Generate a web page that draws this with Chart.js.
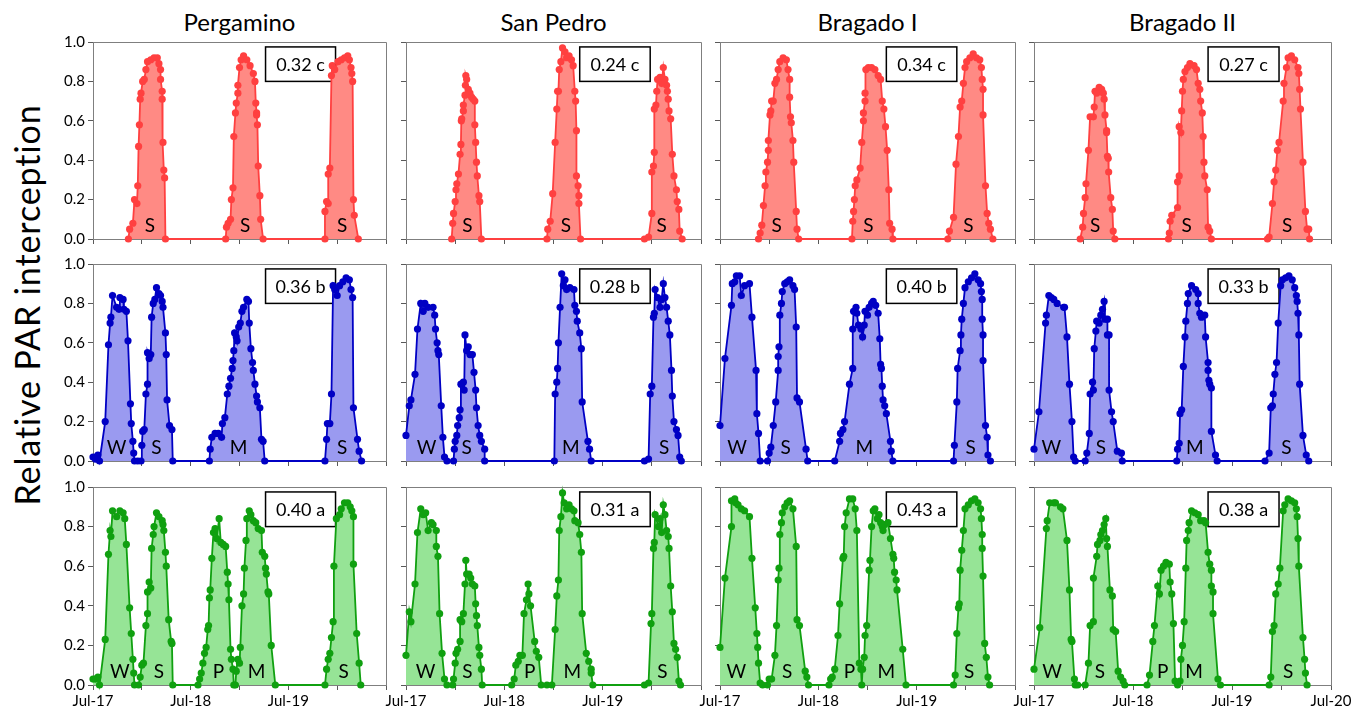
<!DOCTYPE html>
<html>
<head>
<meta charset="utf-8">
<script src="https://cdn.jsdelivr.net/npm/chart.js@4.4.1/dist/chart.umd.min.js"></script>
<style>
  body { margin: 0; background: #fff; font-family: Lato, sans-serif; }
  #page { position: relative; width: 1355px; height: 710px; overflow: hidden; }
  canvas { position: absolute; }
  .col-title { position: absolute; top: 8px; font-size: 24px; line-height: 28px; transform: translateX(-50%); white-space: nowrap; color: #000; }
  #ytitle { position: absolute; left: 27px; top: 305px; font-size: 34px; line-height: 36px; letter-spacing: 0.9px; white-space: nowrap;
            transform: translate(-50%, -50%) rotate(-90deg); color: #000; }
</style>
</head>
<body>
<div id="page">
  <div id="ytitle">Relative PAR interception</div>
</div>
<script>
// Sites (columns) and x axis tick labels (months since Jul-17, every 6 months)
const sites = ['Pergamino', 'San Pedro', 'Bragado I', 'Bragado II'];
const xTickLabels = ['Jul-17', '', 'Jul-18', '', 'Jul-19', '', 'Jul-20'];
const yTicks = [0, 0.2, 0.4, 0.6, 0.8, 1.0];

// Boxed values per row (red, blue, green) and site
const boxValues = [
  ['0.32 c', '0.24 c', '0.34 c', '0.27 c'],
  ['0.36 b', '0.28 b', '0.40 b', '0.33 b'],
  ['0.40 a', '0.31 a', '0.43 a', '0.38 a']
];

// ---- Red row: [month, relative PAR interception]
const pergRed = [[4.35,0],[4.5,0.05],[4.9,0.08],[5.1,0.2],[5.4,0.18],[5.5,0.27],[5.6,0.47],[5.7,0.58],[5.8,0.71],[5.9,0.74],[6.1,0.8],[6.3,0.81],[6.5,0.86],[6.7,0.9],[7.1,0.91],[7.5,0.92],[7.9,0.92],[8.1,0.89],[8.3,0.86],[8.3,0.81],[8.5,0.75],[8.5,0.71],[8.6,0.49],[8.7,0.35],[8.8,0.31],[8.9,0],
  [16.3,0],[16.4,0.06],[16.6,0.08],[16.9,0.1],[17.0,0.2],[17.2,0.26],[17.3,0.52],[17.5,0.64],[17.6,0.69],[17.8,0.74],[17.8,0.78],[18.0,0.87],[18.2,0.91],[18.5,0.93],[18.9,0.91],[19.3,0.88],[19.7,0.84],[19.9,0.8],[20.0,0.69],[20.1,0.64],[20.1,0.63],[20.2,0.58],[20.3,0.37],[20.5,0.22],[20.6,0.1],[20.9,0],
  [28.5,0],[28.5,0.14],[28.7,0.19],[28.9,0.18],[28.9,0.33],[29.1,0.36],[29.3,0.83],[29.4,0.88],[29.7,0.86],[30.1,0.9],[30.5,0.91],[30.9,0.92],[31.3,0.93],[31.5,0.91],[31.7,0.87],[31.8,0.84],[31.9,0.8],[32.0,0.2],[32.1,0.12],[32.6,0]];
const sanpRed = [[5.57,0],[5.7,0.08],[5.8,0.13],[6.0,0.19],[6.1,0.25],[6.2,0.28],[6.4,0.33],[6.6,0.43],[6.7,0.48],[6.75,0.6],[6.8,0.61],[7.0,0.65],[7.0,0.68],[7.2,0.73],[7.25,0.78],[7.3,0.83],[7.4,0.81],[7.6,0.76],[7.8,0.74],[8.0,0.72],[8.2,0.71],[8.4,0.7],[8.4,0.58],[8.5,0.49],[8.6,0.39],[8.7,0.32],[8.9,0.22],[9.0,0.19],[9.2,0],
  [17.2,0],[17.3,0.05],[17.6,0.09],[17.9,0.23],[18.2,0.49],[18.4,0.66],[18.5,0.75],[18.6,0.75],[18.7,0.86],[18.9,0.9],[19.1,0.97],[19.4,0.95],[19.6,0.92],[19.9,0.93],[20.2,0.91],[20.4,0.88],[20.6,0.75],[20.7,0.7],[20.8,0.55],[20.8,0.32],[21.0,0.27],[21.1,0.22],[21.1,0.18],[21.3,0],
  [29.1,0],[29.6,0.01],[30.0,0.13],[30.0,0.34],[30.2,0.37],[30.3,0.44],[30.3,0.66],[30.5,0.68],[30.6,0.75],[30.7,0.81],[31.0,0.82],[31.2,0.79],[31.4,0.87],[31.6,0.81],[31.8,0.78],[31.9,0.75],[32.0,0.71],[32.1,0.65],[32.3,0.61],[32.5,0.43],[32.7,0.32],[33.0,0.25],[33.1,0.19],[33.3,0.15],[33.4,0.04],[33.7,0]];
const brag1Red = [[4.7,0],[4.9,0.03],[5.1,0.07],[5.3,0.17],[5.5,0.27],[5.6,0.34],[5.8,0.39],[5.9,0.45],[5.9,0.5],[6.1,0.63],[6.2,0.65],[6.3,0.7],[6.5,0.7],[6.7,0.79],[6.9,0.81],[7.1,0.86],[7.3,0.9],[7.7,0.92],[8.1,0.91],[8.3,0.86],[8.5,0.81],[8.5,0.72],[8.6,0.62],[8.7,0.59],[8.9,0.5],[9.0,0.39],[9.3,0.14],[9.4,0.05],[9.6,0],
  [16.1,0],[16.2,0.09],[16.3,0.14],[16.4,0.2],[16.5,0.27],[16.7,0.3],[17.1,0.36],[17.3,0.49],[17.5,0.6],[17.5,0.64],[17.7,0.7],[17.7,0.74],[17.8,0.86],[18.1,0.87],[18.5,0.87],[18.9,0.86],[19.3,0.83],[19.6,0.81],[19.8,0.7],[20.0,0.66],[20.2,0.57],[20.4,0.45],[20.6,0.25],[20.7,0.08],[21.0,0.05],[21.1,0],
  [27.8,0],[28.0,0.04],[28.5,0.11],[28.8,0.38],[29.1,0.52],[29.3,0.67],[29.5,0.7],[29.7,0.79],[29.9,0.87],[30.1,0.9],[30.5,0.92],[30.9,0.94],[31.3,0.92],[31.7,0.91],[31.9,0.87],[32.0,0.81],[32.1,0.76],[32.1,0.63],[32.4,0.27],[32.6,0.13],[32.8,0.08],[33.0,0.05],[33.3,0]];
const brag2Red = [[5.6,0],[5.9,0.06],[6.0,0.13],[6.2,0.21],[6.3,0.28],[6.6,0.45],[6.8,0.62],[7.2,0.62],[7.3,0.67],[7.4,0.75],[7.6,0.74],[7.9,0.77],[8.2,0.76],[8.4,0.74],[8.5,0.71],[8.6,0.63],[8.8,0.55],[8.8,0.54],[8.9,0.42],[9.0,0.41],[9.05,0.34],[9.3,0.21],[9.5,0.15],[9.6,0.04],[9.8,0],
  [16.3,0],[16.4,0.03],[16.5,0.09],[16.7,0.12],[17.4,0.16],[17.4,0.29],[17.6,0.32],[17.6,0.57],[17.8,0.54],[17.9,0.65],[18.0,0.75],[18.1,0.81],[18.3,0.85],[18.6,0.87],[18.9,0.89],[19.4,0.88],[19.7,0.86],[19.9,0.79],[20.1,0.76],[20.2,0.7],[20.4,0.64],[20.5,0.52],[20.6,0.39],[20.7,0.32],[21.0,0.25],[21.1,0.06],[21.3,0.04],[21.5,0],
  [28.3,0],[28.5,0.01],[28.9,0.18],[29.1,0.29],[29.3,0.35],[29.5,0.45],[29.7,0.49],[30.2,0.7],[30.3,0.79],[30.6,0.87],[30.8,0.92],[31.2,0.93],[31.6,0.91],[32.0,0.87],[32.1,0.84],[32.2,0.76],[32.3,0.66],[32.6,0.39],[32.9,0.14],[33.1,0.05],[33.3,0.05],[33.4,0]];

// ---- Blue row
const pergBlue = [[0,0.02],[0.3,0.01],[0.6,0.03],[0.8,0],[1.5,0.2],[1.9,0.59],[2.1,0.7],[2.2,0.73],[2.4,0.84],[2.9,0.78],[3.2,0.77],[3.3,0.83],[3.7,0.82],[3.8,0.77],[4.1,0.76],[4.3,0.61],[4.6,0.29],[4.7,0.19],[4.9,0.1],[5.0,0.04],[5.1,0],[5.5,0],
  [5.9,0],[6.0,0.08],[6.1,0.15],[6.3,0.16],[6.5,0.34],[6.7,0.39],[6.7,0.55],[6.9,0.52],[7.1,0.54],[7.2,0.73],[7.4,0.8],[7.6,0.82],[7.8,0.88],[8.1,0.85],[8.3,0.84],[8.5,0.81],[8.6,0.78],[8.9,0.65],[9.0,0.54],[9.1,0.31],[9.4,0.18],[9.7,0.16],[9.8,0],
  [14.3,0],[14.4,0.06],[14.6,0.12],[15.0,0.14],[15.4,0.14],[15.8,0.12],[15.9,0.19],[16.2,0.22],[16.5,0.34],[16.7,0.38],[16.9,0.42],[17.1,0.47],[17.2,0.51],[17.3,0.56],[17.4,0.65],[17.6,0.63],[17.7,0.61],[17.9,0.68],[18.1,0.7],[18.3,0.76],[18.5,0.78],[18.9,0.82],[19.1,0.81],[19.2,0.7],[19.4,0.57],[19.6,0.5],[19.7,0.46],[19.9,0.39],[20.1,0.33],[20.2,0.3],[20.5,0.27],[20.7,0.11],[20.9,0.1],[21.1,0],
  [28.5,0],[28.7,0.11],[28.8,0.19],[29.1,0.19],[29.3,0.34],[29.5,0.89],[29.7,0.87],[30.0,0.84],[30.3,0.89],[30.7,0.91],[31.1,0.93],[31.5,0.92],[31.7,0.87],[31.9,0.83],[32.0,0.27],[32.5,0.11],[32.7,0.05],[33.0,0]];
const sanpBlue = [[0,0.13],[0.4,0.28],[0.6,0.31],[1.1,0.44],[1.4,0.67],[1.8,0.8],[2.1,0.76],[2.3,0.8],[2.7,0.78],[3.3,0.78],[3.5,0.74],[3.6,0.67],[3.8,0.6],[3.9,0.56],[4.0,0.54],[4.3,0.28],[4.5,0.12],[4.7,0.02],[5.0,0],
  [5.8,0],[5.9,0.06],[6.0,0.1],[6.2,0.13],[6.3,0.18],[6.5,0.22],[6.6,0.26],[6.7,0.39],[7.0,0.4],[7.1,0.36],[7.2,0.64],[7.4,0.56],[7.6,0.58],[7.8,0.54],[8.1,0.54],[8.3,0.45],[8.5,0.36],[8.6,0.27],[8.8,0.18],[9.0,0.13],[9.2,0.1],[9.6,0.06],[9.6,0],
  [18.1,0],[18.2,0.34],[18.4,0.4],[18.5,0.47],[18.6,0.6],[18.8,0.78],[19.0,0.95],[19.2,0.89],[19.4,0.92],[19.6,0.87],[20.0,0.88],[20.5,0.87],[20.6,0.79],[20.8,0.76],[20.9,0.71],[21.2,0.65],[21.4,0.57],[21.5,0.3],[22.2,0.1],[22.4,0.06],[22.6,0],
  [29.1,0],[29.6,0.01],[29.8,0.34],[30.0,0.38],[30.2,0.73],[30.3,0.75],[30.4,0.87],[30.7,0.83],[31.0,0.78],[31.2,0.82],[31.4,0.9],[31.6,0.83],[31.8,0.78],[32.0,0.71],[32.2,0.64],[32.4,0.46],[32.5,0.33],[32.7,0.2],[33.0,0.16],[33.2,0.13],[33.4,0.02],[33.6,0]];
const brag1Blue = [[0,0.18],[0.6,0.52],[1.4,0.79],[1.5,0.9],[1.8,0.91],[2.0,0.94],[2.4,0.94],[2.6,0.84],[3.0,0.89],[3.6,0.9],[3.9,0.73],[4.4,0.46],[4.5,0.24],[4.7,0.14],[4.9,0],
  [5.8,0],[6.0,0.04],[6.2,0.07],[6.5,0.18],[6.8,0.3],[7.1,0.46],[7.1,0.53],[7.2,0.58],[7.3,0.74],[7.5,0.8],[7.6,0.86],[7.9,0.9],[8.2,0.91],[8.5,0.92],[8.9,0.89],[9.1,0.87],[9.3,0.68],[9.4,0.32],[9.7,0.3],[10.5,0.06],[10.7,0],
  [14.0,0],[14.6,0.1],[14.7,0.14],[15.0,0.16],[15.2,0.2],[15.8,0.39],[16.2,0.47],[16.2,0.67],[16.3,0.76],[16.6,0.78],[16.7,0.75],[16.9,0.69],[17.2,0.67],[17.4,0.63],[17.6,0.69],[17.7,0.76],[18.0,0.74],[18.2,0.78],[18.5,0.8],[18.7,0.81],[19.0,0.79],[19.3,0.75],[19.5,0.62],[19.6,0.49],[19.7,0.47],[19.8,0.38],[19.9,0.31],[20.1,0.28],[20.3,0.24],[20.8,0.1],[20.9,0.05],[21.1,0],
  [28.5,0],[28.6,0.08],[28.9,0.3],[29.0,0.47],[29.3,0.56],[29.4,0.64],[29.5,0.72],[29.7,0.8],[29.9,0.88],[30.3,0.91],[30.7,0.93],[31.1,0.95],[31.5,0.92],[31.8,0.9],[31.9,0.86],[32.0,0.82],[32.0,0.72],[32.1,0.64],[32.1,0.51],[32.4,0.18],[32.6,0.12],[32.7,0.03],[33.0,0]];
const brag2Blue = [[0,0.06],[0.6,0.25],[1.4,0.7],[1.5,0.74],[1.8,0.84],[2.1,0.83],[2.4,0.82],[2.8,0.8],[3.6,0.78],[3.7,0.78],[4.0,0.63],[4.3,0.39],[4.6,0.2],[4.8,0.02],[5.0,0],
  [6.2,0],[6.4,0.04],[6.7,0.14],[6.8,0.34],[7.1,0.4],[7.2,0.36],[7.3,0.57],[7.5,0.66],[7.6,0.71],[7.9,0.7],[8.1,0.74],[8.3,0.77],[8.5,0.81],[8.6,0.72],[8.9,0.72],[8.9,0.64],[9.1,0.64],[9.1,0.36],[9.4,0.25],[9.6,0.2],[10.1,0.05],[10.6,0.04],[10.7,0],
  [17.3,0],[17.4,0.06],[17.6,0.09],[17.7,0.24],[17.9,0.26],[18.1,0.48],[18.3,0.63],[18.4,0.71],[18.6,0.8],[18.7,0.85],[19.1,0.89],[19.6,0.87],[19.9,0.85],[19.9,0.8],[20.1,0.75],[20.3,0.73],[20.7,0.74],[20.8,0.63],[21.1,0.5],[21.1,0.46],[21.2,0.41],[21.3,0.39],[21.5,0.37],[21.5,0.15],[22.0,0.03],[22.2,0],
  [28.0,0],[28.5,0.04],[28.7,0.27],[28.9,0.28],[29.0,0.34],[29.2,0.44],[29.4,0.5],[29.6,0.7],[29.9,0.89],[30.1,0.92],[30.5,0.93],[30.9,0.94],[31.3,0.92],[31.6,0.88],[31.8,0.84],[31.9,0.81],[32.0,0.75],[32.1,0.64],[32.2,0.39],[32.6,0.13],[33.0,0.03],[33.3,0]];

// ---- Green row
const pergGreen = [[0,0.03],[0.3,0.03],[0.6,0.04],[0.8,0],[1.5,0.23],[1.9,0.66],[2.1,0.78],[2.2,0.75],[2.4,0.88],[2.9,0.85],[3.3,0.88],[3.7,0.87],[3.9,0.84],[4.1,0.71],[4.5,0.39],[4.7,0.26],[4.9,0.13],[5.0,0.06],[5.1,0],[5.6,0],
  [5.8,0.04],[6.0,0.1],[6.2,0.11],[6.5,0.3],[6.7,0.36],[6.7,0.47],[6.9,0.52],[7.1,0.49],[7.2,0.69],[7.4,0.76],[7.5,0.8],[7.8,0.87],[8.1,0.85],[8.5,0.83],[8.6,0.81],[8.7,0.78],[8.9,0.67],[9.0,0.6],[9.3,0.33],[9.6,0.22],[9.7,0.21],[9.8,0],
  [12.9,0],[13.1,0.03],[13.3,0.06],[13.5,0.11],[13.7,0.16],[13.9,0.19],[14.1,0.28],[14.2,0.3],[14.3,0.44],[14.4,0.48],[14.6,0.64],[14.8,0.77],[15.0,0.79],[15.2,0.74],[15.5,0.84],[15.7,0.72],[16.0,0.71],[16.3,0.7],[16.5,0.57],[16.6,0.51],[16.7,0.43],[16.9,0.18],[17.0,0.13],[17.2,0.08],[17.3,0],[17.5,0],
  [17.6,0.07],[17.8,0.13],[18.0,0.11],[18.1,0.19],[18.3,0.4],[18.5,0.46],[18.6,0.59],[18.8,0.73],[18.9,0.84],[19.2,0.88],[19.4,0.86],[19.7,0.83],[20.0,0.82],[20.3,0.79],[20.7,0.78],[20.8,0.67],[21.1,0.65],[21.2,0.59],[21.3,0.56],[21.5,0.47],[21.6,0.46],[21.9,0.2],[22.4,0],
  [28.5,0],[28.7,0.08],[28.9,0.13],[29.1,0.16],[29.3,0.24],[29.5,0.32],[29.6,0.6],[29.9,0.84],[30.3,0.86],[30.5,0.89],[30.9,0.92],[31.3,0.92],[31.6,0.9],[31.8,0.88],[32.0,0.85],[32.0,0.61],[32.4,0.26],[32.7,0.11],[32.9,0]];
const sanpGreen = [[0,0.15],[0.4,0.37],[0.6,0.32],[1.1,0.51],[1.4,0.77],[1.8,0.89],[2.1,0.86],[2.4,0.87],[2.7,0.78],[3.1,0.82],[3.3,0.81],[3.7,0.78],[3.7,0.7],[3.9,0.65],[4.1,0.36],[4.4,0.16],[4.7,0.03],[5.0,0],
  [5.7,0],[5.8,0.03],[6.0,0.11],[6.1,0.16],[6.3,0.18],[6.6,0.22],[6.6,0.33],[6.8,0.32],[7.0,0.36],[7.2,0.51],[7.3,0.63],[7.4,0.56],[7.7,0.56],[7.9,0.54],[8.1,0.51],[8.4,0.5],[8.5,0.41],[8.6,0.35],[8.7,0.3],[8.9,0.19],[9.0,0.15],[9.2,0.08],[9.3,0],
  [12.9,0],[13.2,0.03],[13.4,0.1],[13.7,0.12],[13.9,0.15],[14.2,0.15],[14.4,0.36],[14.7,0.43],[14.9,0.51],[15.0,0.46],[15.2,0.4],[15.7,0.22],[15.9,0.17],[16.2,0.14],[16.5,0],[17.2,0],[17.8,0],
  [18.2,0.28],[18.4,0.45],[18.6,0.53],[18.7,0.78],[18.9,0.85],[19.1,0.97],[19.3,0.92],[19.6,0.89],[19.9,0.91],[20.2,0.89],[20.5,0.88],[20.6,0.83],[21.0,0.82],[21.2,0.76],[21.4,0.67],[21.5,0.36],[22.0,0.16],[22.3,0.12],[22.6,0.08],[22.6,0.06],[22.8,0],
  [29.1,0],[29.6,0.01],[29.9,0.31],[30.0,0.36],[30.2,0.69],[30.3,0.72],[30.4,0.86],[30.8,0.8],[31.0,0.84],[31.2,0.77],[31.4,0.91],[31.6,0.86],[31.8,0.78],[32.0,0.75],[32.1,0.69],[32.3,0.5],[32.5,0.37],[32.7,0.21],[32.9,0.18],[33.1,0.14],[33.3,0.02],[33.5,0]];
const brag1Green = [[0,0.19],[0.6,0.54],[1.4,0.8],[1.4,0.93],[1.8,0.94],[1.9,0.92],[2.2,0.91],[2.6,0.89],[3.0,0.88],[3.6,0.85],[3.9,0.64],[4.3,0.39],[4.5,0.26],[4.6,0.19],[4.7,0.11],[4.9,0.01],[5.2,0],
  [5.8,0],[6.0,0.03],[6.3,0.03],[6.7,0.15],[6.9,0.3],[7.1,0.53],[7.2,0.59],[7.3,0.76],[7.5,0.82],[7.6,0.87],[7.9,0.9],[8.2,0.92],[8.5,0.93],[8.9,0.89],[9.3,0.7],[9.4,0.33],[9.7,0.3],[10.4,0.07],[10.6,0.04],[10.8,0],
  [13.3,0],[13.5,0.03],[13.7,0.04],[14.0,0.08],[14.4,0.25],[14.6,0.41],[15.0,0.64],[15.1,0.65],[15.2,0.8],[15.4,0.87],[15.8,0.94],[16.2,0.94],[16.5,0.89],[16.7,0.78],[17.0,0.11],[17.2,0.08],[17.3,0],
  [17.4,0.08],[17.6,0.14],[17.7,0.25],[17.9,0.3],[18.2,0.58],[18.3,0.63],[18.5,0.8],[18.7,0.88],[18.9,0.89],[19.2,0.84],[19.4,0.86],[19.6,0.82],[19.8,0.8],[19.9,0.78],[20.1,0.81],[20.5,0.82],[20.8,0.74],[21.1,0.66],[21.2,0.64],[21.3,0.57],[21.5,0.53],[21.6,0.48],[22.3,0.18],[22.7,0],
  [28.5,0],[28.7,0.05],[28.9,0.26],[29.1,0.39],[29.2,0.41],[29.3,0.58],[29.5,0.68],[29.7,0.78],[29.9,0.89],[30.3,0.91],[30.7,0.93],[31.1,0.94],[31.5,0.92],[31.8,0.89],[31.9,0.84],[32.0,0.76],[32.0,0.69],[32.1,0.55],[32.3,0.21],[32.5,0.14],[32.7,0.04],[32.9,0]];
const brag2Green = [[0,0.08],[0.7,0.29],[1.5,0.79],[1.6,0.83],[1.9,0.92],[2.4,0.92],[2.6,0.92],[3.2,0.9],[3.5,0.89],[4.0,0.73],[4.3,0.48],[4.5,0.23],[4.6,0.22],[4.9,0.03],[5.0,0],[5.3,0],
  [6.2,0],[6.6,0.11],[6.8,0.3],[7.2,0.32],[7.2,0.54],[7.6,0.65],[7.7,0.71],[8.0,0.73],[8.1,0.76],[8.3,0.78],[8.5,0.81],[8.7,0.84],[8.8,0.74],[8.9,0.7],[9.2,0.48],[9.5,0.45],[9.6,0.28],[9.9,0.27],[10.2,0.07],[10.5,0.04],[10.8,0.02],[11.0,0],
  [13.7,0],[14.0,0.05],[14.4,0.22],[14.6,0.3],[15.0,0.5],[15.2,0.46],[15.4,0.58],[15.7,0.6],[16.0,0.62],[16.4,0.61],[16.5,0.52],[16.7,0.46],[16.9,0.31],[17.1,0.02],[17.4,0],
  [17.7,0.02],[17.8,0.13],[18.0,0.2],[18.2,0.32],[18.4,0.59],[18.5,0.73],[18.7,0.78],[18.8,0.82],[19.1,0.88],[19.5,0.87],[19.9,0.86],[20.2,0.83],[20.6,0.83],[20.8,0.82],[21.1,0.67],[21.3,0.61],[21.5,0.58],[21.5,0.5],[21.7,0.47],[21.7,0.36],[22.3,0.03],[22.6,0],
  [28.5,0],[28.7,0.04],[28.9,0.27],[29.1,0.3],[29.3,0.46],[29.6,0.51],[29.8,0.59],[30.2,0.88],[30.4,0.91],[30.8,0.94],[31.2,0.93],[31.6,0.92],[31.8,0.89],[31.9,0.85],[32.0,0.74],[32.1,0.6],[32.6,0.24],[32.8,0.13],[32.9,0.06],[33.1,0]];

// Crop labels: [letter, month]
const pergRedCrops = [['S',7.0],['S',18.7],['S',30.6]];
const sanpRedCrops = [['S',7.5],['S',19.5],['S',31.2]];
const brag1RedCrops = [['S',6.9],['S',18.1],['S',30.3]];
const brag2RedCrops = [['S',7.4],['S',18.5],['S',30.7]];
const pergBlueCrops = [['W',2.9],['S',7.8],['M',17.9],['S',30.6]];
const sanpBlueCrops = [['W',2.5],['S',7.4],['M',20.1],['S',31.5]];
const brag1BlueCrops = [['W',2.1],['S',8.0],['M',17.6],['S',30.6]];
const brag2BlueCrops = [['W',2.1],['S',8.1],['M',19.5],['S',30.6]];
const pergGreenCrops = [['W',3.3],['S',8.1],['P',15.4],['M',20.1],['S',30.8]];
const sanpGreenCrops = [['W',2.4],['S',7.5],['P',15.1],['M',20.3],['S',31.3]];
const brag1GreenCrops = [['W',2.0],['S',8.2],['P',15.8],['M',20.3],['S',30.4]];
const brag2GreenCrops = [['W',2.2],['S',8.0],['P',15.6],['M',19.4],['S',30.8]];

const series = [
  [pergRed, sanpRed, brag1Red, brag2Red],
  [pergBlue, sanpBlue, brag1Blue, brag2Blue],
  [pergGreen, sanpGreen, brag1Green, brag2Green]
];
const crops = [
  [pergRedCrops, sanpRedCrops, brag1RedCrops, brag2RedCrops],
  [pergBlueCrops, sanpBlueCrops, brag1BlueCrops, brag2BlueCrops],
  [pergGreenCrops, sanpGreenCrops, brag1GreenCrops, brag2GreenCrops]
];

// Styles
const rowLine = ['#ff4040', '#0000c4', '#10a010'];
const rowFill = ['#ff8a84', '#9a9af0', '#96e496'];
const FONT = 'Lato, sans-serif';

// Layout of the plot areas (px)
const colL = [93, 406, 720, 1034];
const colR = [386, 701, 1015, 1331];
const rowT = [42, 264, 487];
const rowB = [239, 461, 685];
const padL = 55, padR = 28, padT = 12, padB = 32;
const boxX0 = [21.2, 21.2, 20.3, 21.1];

const panelDecor = {
  id: 'panelDecor',
  beforeDatasetsDraw(chart, args, opts) {
    const {ctx, scales: {x, y}} = chart;
    const x0 = x.getPixelForValue(opts.boxX), x1 = x.getPixelForValue(opts.boxX + 8.6);
    const y0 = y.getPixelForValue(0.975), y1 = y.getPixelForValue(0.80);
    ctx.save();
    ctx.fillStyle = '#fff';
    ctx.fillRect(x0, y0, x1 - x0, y1 - y0);
    ctx.strokeStyle = '#000';
    ctx.lineWidth = 1.5;
    ctx.strokeRect(x0, y0, x1 - x0, y1 - y0);
    ctx.fillStyle = '#000';
    ctx.font = '18px ' + FONT;
    ctx.textAlign = 'center';
    ctx.textBaseline = 'middle';
    ctx.fillText(opts.box, (x0 + x1) / 2, (y0 + y1) / 2 + 1);
    ctx.restore();
  },
  afterDatasetsDraw(chart, args, opts) {
    const {ctx, scales: {x, y}} = chart;
    ctx.save();
    ctx.fillStyle = '#000';
    ctx.font = '19px ' + FONT;
    ctx.textAlign = 'center';
    ctx.textBaseline = 'middle';
    opts.crops.forEach(c => ctx.fillText(c[0], x.getPixelForValue(c[1]), y.getPixelForValue(0.065)));
    ctx.restore();
  },
  afterDraw(chart) {
    const {ctx, chartArea: a} = chart;
    ctx.save();
    ctx.strokeStyle = '#7f7f7f';
    ctx.lineWidth = 1;
    ctx.beginPath();
    ctx.moveTo(a.left, a.top + 0.5);
    ctx.lineTo(a.right + 0.5, a.top + 0.5);
    ctx.lineTo(a.right + 0.5, a.bottom);
    ctx.stroke();
    ctx.restore();
  }
};

const page = document.getElementById('page');

sites.forEach((site, c) => {
  const t = document.createElement('div');
  t.className = 'col-title';
  t.textContent = site;
  t.style.left = ((colL[c] + colR[c]) / 2) + 'px';
  page.appendChild(t);
});

for (let r = 0; r < 3; r++) {
  for (let c = 0; c < 4; c++) {
    const w = colR[c] - colL[c] + padL + padR;
    const h = rowB[r] - rowT[r] + padT + padB;
    const cv = document.createElement('canvas');
    cv.width = w;
    cv.height = h;
    cv.style.left = (colL[c] - padL) + 'px';
    cv.style.top = (rowT[r] - padT) + 'px';
    page.appendChild(cv);

    const lastCol = c === 3;
    new Chart(cv, {
      type: 'line',
      data: {
        datasets: [{
          data: series[r][c].map(p => ({x: p[0], y: p[1]})),
          borderColor: rowLine[r],
          backgroundColor: rowFill[r],
          pointBackgroundColor: rowLine[r],
          pointBorderColor: rowLine[r],
          pointBorderWidth: 0,
          pointRadius: 3.6,
          borderWidth: 1.8,
          fill: 'origin',
          tension: 0,
          clip: 8
        }]
      },
      options: {
        responsive: false,
        animation: false,
        events: [],
        layout: { padding: { left: 0, right: padR, top: padT, bottom: 0 }, autoPadding: false },
        plugins: {
          legend: { display: false },
          tooltip: { enabled: false },
          panelDecor: { box: boxValues[r][c], boxX: boxX0[c], crops: crops[r][c] }
        },
        scales: {
          x: {
            type: 'linear',
            min: 0,
            max: 36,
            afterFit: s => { s.height = padB; },
            afterBuildTicks: s => { s.ticks = xTickLabels.map((l, i) => ({value: i * 6})); },
            ticks: {
              display: r === 2,
              autoSkip: false,
              maxRotation: 0,
              padding: 2,
              color: '#000',
              font: { family: FONT, size: 15 },
              callback: v => {
                const lbl = xTickLabels[Math.round(v / 6)];
                return (v === 36 && !lastCol) ? '' : lbl;
              }
            },
            grid: { display: true, drawOnChartArea: false, drawTicks: true, tickLength: 5, color: '#595959' },
            border: { display: true, color: '#7f7f7f', width: 1 }
          },
          y: {
            min: 0,
            max: 1,
            afterFit: s => { s.width = padL; },
            afterBuildTicks: s => { s.ticks = yTicks.map(v => ({value: v})); },
            ticks: {
              display: c === 0,
              padding: 3,
              color: '#000',
              font: { family: FONT, size: 15 },
              callback: v => v.toFixed(1)
            },
            grid: { display: true, drawOnChartArea: false, drawTicks: true, tickLength: 5, color: '#595959' },
            border: { display: true, color: '#7f7f7f', width: 1 }
          }
        }
      },
      plugins: [panelDecor]
    });
  }
}
</script>
</body>
</html>
